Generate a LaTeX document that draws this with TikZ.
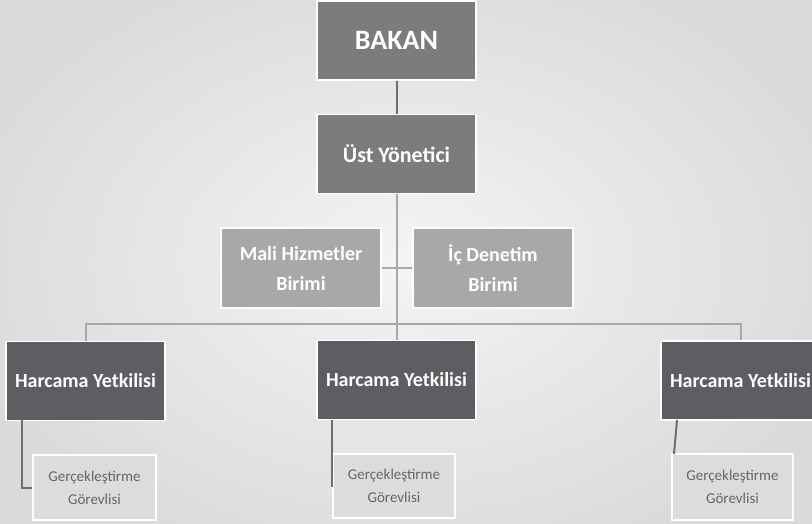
\documentclass[tikz,border=0pt]{standalone}
\usepackage{fontspec}
\setmainfont{Carlito}
\definecolor{bgin}{HTML}{F4F4F4}
\definecolor{bgout}{HTML}{DADADB}
\definecolor{topfill}{HTML}{7B7C7E}
\definecolor{midfill}{HTML}{A7A8AA}
\definecolor{harfill}{HTML}{5D5E61}
\definecolor{gerfill}{HTML}{DCDCDD}
\definecolor{gertext}{HTML}{666667}
\definecolor{darkline}{HTML}{6E6E70}
\definecolor{lightline}{HTML}{A8A8AA}
\tikzset{
  box/.style={rectangle, draw=white, line width=1.6pt, align=center, inner sep=0pt},
  topbox/.style={box, fill=topfill, text=white, minimum width=159pt, minimum height=79pt},
  midbox/.style={box, fill=midfill, text=white, minimum width=160pt, minimum height=80pt,
     font=\fontsize{20}{30}\selectfont\bfseries},
  harbox/.style={box, fill=harfill, text=white, minimum width=159pt, minimum height=79pt,
     font=\fontsize{20}{24}\selectfont\bfseries},
  gerbox/.style={box, fill=gerfill, text=gertext, minimum width=122pt, minimum height=65pt,
     font=\fontsize{15}{23}\selectfont},
  dline/.style={draw=darkline, line width=2pt},
  lline/.style={draw=lightline, line width=2pt},
}
\begin{document}
\begin{tikzpicture}[x=1pt,y=-1pt]
\clip (0,0) rectangle (812,524);
\shade[inner color=bgin, outer color=bgout] (-60,-60) rectangle (872,584);
\useasboundingbox (0,0) rectangle (812,524);

\coordinate (bus) at (396.5,324);
\coordinate (g2a) at (332,487);
\coordinate (h3a) at (677,420);
\coordinate (g3a) at (674,454);
\coordinate (h1a) at (22,420);

% connectors first (drawn beneath the boxes)
\path (396.5,40.5) coordinate (cb) (396.5,154) coordinate (cu);
\draw[dline] (396.5,80) -- (396.5,115);

\node[topbox, font=\fontsize{28}{32}\selectfont\bfseries] (bakan) at (396.5,40.5) {BAKAN};
\node[topbox, font=\fontsize{22}{26}\selectfont\bfseries] (ust) at (396.5,154) {Üst Yönetici};
\node[harbox] (h1) at (85.5,381) {Harcama Yetkilisi};
\node[harbox] (h2) at (396.5,380) {Harcama Yetkilisi};
\node[harbox] (h3) at (740.5,380.5) {Harcama Yetkilisi};

\draw[lline] (ust.south) -- (h2.north);
\draw[lline] (h1.north) |- (bus) -| (h3.north);

\node[midbox] (mali) at (301,268) {Mali Hizmetler\\Birimi};
\node[midbox] (ic) at (493,268) {İç Denetim\\Birimi};
\draw[lline] (mali.east) -- (ic.west);

\node[gerbox, minimum width=123pt] (g1) at (94.5,487.5) {Gerçekleştirme\\Görevlisi};
\node[gerbox, minimum height=64pt] (g2) at (394,486) {Gerçekleştirme\\Görevlisi};
\node[gerbox, minimum width=121pt, minimum height=66pt] (g3) at (732.5,487) {Gerçekleştirme\\Görevlisi};

\draw[dline] (bakan.south) -- (ust.north);
\draw[dline] (h1a) |- (g1.west);
\draw[dline] (h2.south -| g2a) -- (g2a);
\draw[dline] (h3a) -- (g3a);
\end{tikzpicture}
\end{document}
